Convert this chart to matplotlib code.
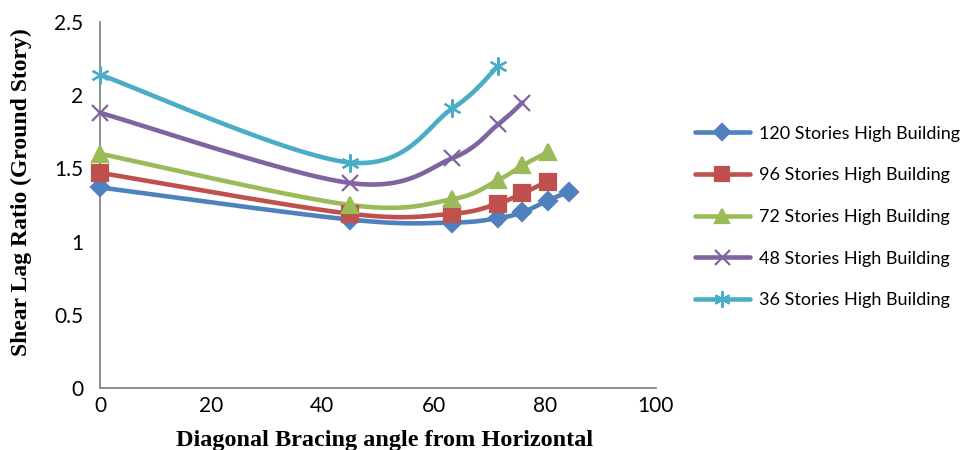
import numpy as np
import matplotlib.pyplot as plt
from matplotlib.lines import Line2D

# bracing angles (deg)
angles = [0, 45, 63.4, 71.6, 76.0, 80.5, 84.3]

s120 = [1.37, 1.15, 1.13, 1.16, 1.20, 1.28, 1.34]
s96 = [1.47, 1.19, 1.19, 1.26, 1.33, 1.41]
s72 = [1.60, 1.25, 1.29, 1.42, 1.52, 1.61]
s48 = [1.88, 1.40, 1.57, 1.80, 1.95]
s36 = [2.14, 1.54, 1.91, 2.20]

labels = ['120 Stories High Building', '96 Stories High Building',
          '72 Stories High Building', '48 Stories High Building',
          '36 Stories High Building']
series = [s120, s96, s72, s48, s36]
colors = ['#4F81BD', '#C0504D', '#9BBB59', '#8064A2', '#4BACC6']
markers = ['D', 's', '^', 'x', (6, 2, 0)]
msizes = [9, 11, 11, 12, 13]

x_ticks = [0, 20, 40, 60, 80, 100]
y_ticks = [0, 0.5, 1, 1.5, 2, 2.5]
y_ticklabels = ['0', '0.5', '1', '1.5', '2', '2.5']


def smooth(x, y, n=30):
    # excel style smoothed line (bezier with catmull-rom control points)
    p = np.column_stack([x, y]).astype(float)
    pts = np.vstack([p[0], p, p[-1]])
    out = []
    t = np.linspace(0, 1, n)[:, None]
    for i in range(1, len(pts) - 2):
        p0, p1, p2, p3 = pts[i - 1], pts[i], pts[i + 1], pts[i + 2]
        c1 = p1 + (p2 - p0) / 6
        c2 = p2 - (p3 - p1) / 6
        seg = ((1 - t) ** 3) * p1 + 3 * ((1 - t) ** 2) * t * c1 + 3 * (1 - t) * t ** 2 * c2 + t ** 3 * p2
        out.append(seg)
    out = np.vstack(out)
    return out[:, 0], out[:, 1]


fig = plt.figure(figsize=(9.66, 4.5), dpi=100)
ax = fig.add_axes([0.1035, 0.138, 0.5755, 0.813])

handles = []
for vals, lab, c, m, ms in zip(series, labels, colors, markers, msizes):
    xs = angles[:len(vals)]
    sx, sy = smooth(xs, vals)
    ax.plot(sx, sy, color=c, lw=3.3, solid_capstyle='round', zorder=2)
    ax.plot(xs, vals, ls='none', marker=m, ms=ms, color=c, mec=c, mew=1.6, zorder=3, clip_on=False)
    handles.append(Line2D([0], [0], color=c, lw=3.3, marker=m, ms=ms * 0.9, mec=c, mew=1.6,
                          solid_capstyle='round'))

ax.set_xlim(0, 100)
ax.set_ylim(0, 2.5)
ax.set_xticks(x_ticks)
ax.set_yticks(y_ticks)
ax.set_yticklabels(y_ticklabels)
for sp in ['top', 'right']:
    ax.spines[sp].set_visible(False)
for sp in ['left', 'bottom']:
    ax.spines[sp].set_color('#868686')
    ax.spines[sp].set_linewidth(1.3)
ax.tick_params(axis='y', length=0, labelsize=15, pad=12)
ax.tick_params(axis='x', length=0, labelsize=15, pad=6)
for t in ax.get_xticklabels() + ax.get_yticklabels():
    t.set_fontfamily('Lato')

ax.set_xlabel('Diagonal Bracing angle from Horizontal', family='Liberation Serif',
              fontweight='bold', fontsize=17.5)
ax.xaxis.set_label_coords(0.512, -0.115)
ax.set_ylabel('Shear Lag Ratio (Ground Story)', family='Liberation Serif',
              fontweight='bold', fontsize=17)
ax.yaxis.set_label_coords(-0.122, 0.535)

leg = fig.legend(handles, labels, loc='center left', bbox_to_anchor=(0.703, 0.518),
                 frameon=False, handlelength=3.0, handletextpad=0.5, labelspacing=1.42,
                 prop={'family': 'Lato', 'size': 13})

fig.savefig('out.png', dpi=100)
